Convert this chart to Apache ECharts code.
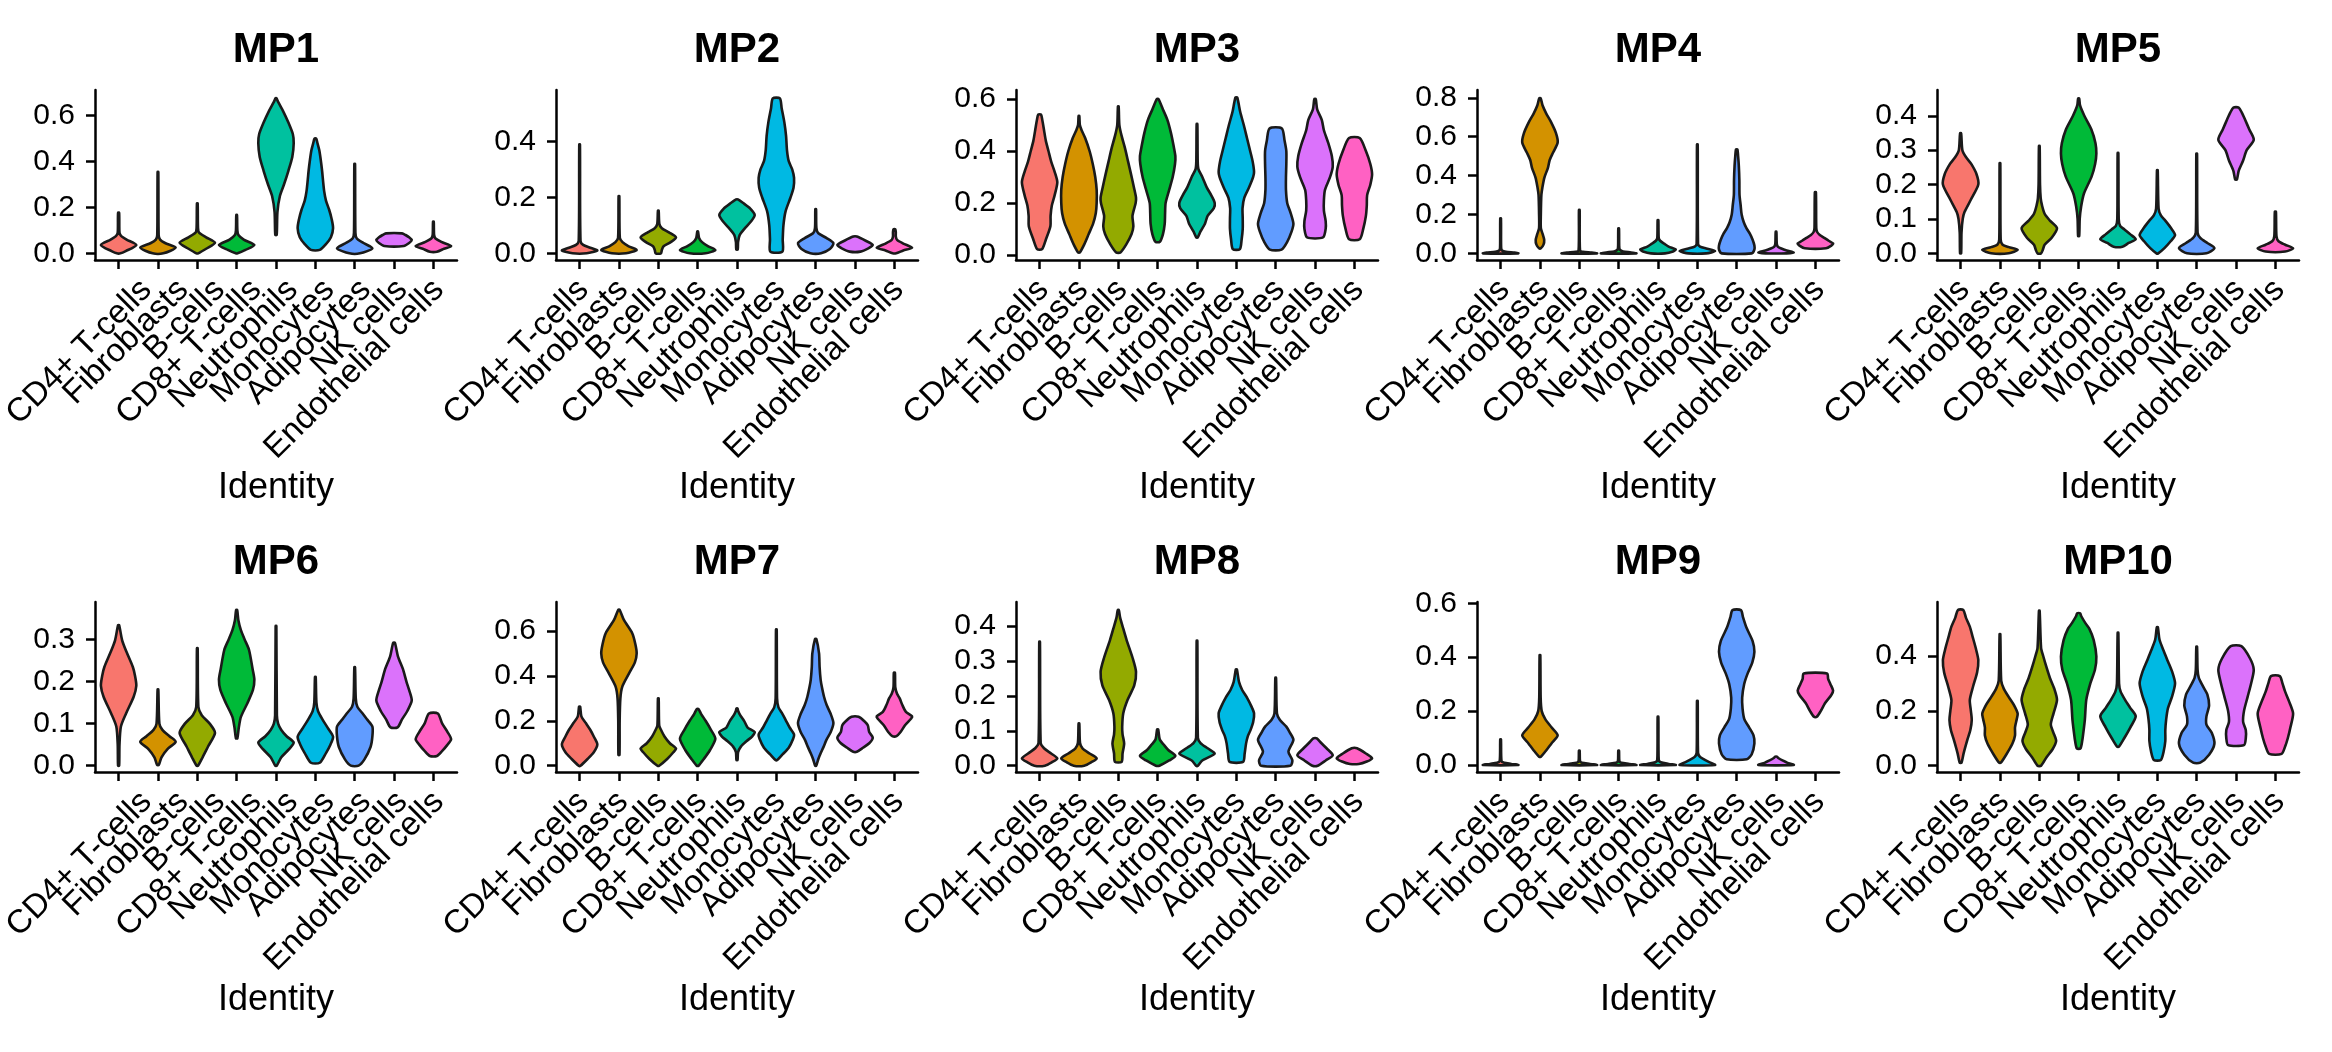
<!DOCTYPE html>
<html><head><meta charset="utf-8">
<script src="https://cdn.jsdelivr.net/npm/echarts@6/dist/echarts.min.js"></script>
<style>html,body{margin:0;padding:0;background:#fff}#c{width:2332px;height:1052px}</style>
</head><body><div id="c"></div>
<script>
const categories = ['CD4+ T-cells','Fibroblasts','B-cells','CD8+ T-cells','Neutrophils','Monocytes','Adipocytes','NK cells','Endothelial cells'];
const colors = ['#F8766D','#D39200','#93AA00','#00BA38','#00C19F','#00B9E3','#619CFF','#DB72FB','#FF61C3'];
const panelTitles = ['MP1','MP2','MP3','MP4','MP5','MP6','MP7','MP8','MP9','MP10'];
const yMin = [-0.029,-0.024,-0.02,-0.034,-0.0195,-0.015,-0.028,-0.018,-0.026,-0.023];
const yMax = [0.712,0.585,0.635,0.84,0.475,0.389,0.729,0.469,0.605,0.597];
const yTicks = [[0,0.2,0.4,0.6],[0,0.2,0.4],[0,0.2,0.4,0.6],[0,0.2,0.4,0.6,0.8],[0,0.1,0.2,0.3,0.4],
  [0,0.1,0.2,0.3],[0,0.2,0.4,0.6],[0,0.1,0.2,0.3,0.4],[0,0.2,0.4,0.6],[0,0.2,0.4]];

// violin profiles: [value, relative width] from bottom to top (width 1 = widest point)
const MP1 = [
 [[0,0.1],[0.01,0.4],[0.036,1],[0.06,0.45],[0.075,0.15],[0.09,0.05],[0.177,0.03]],
 [[0,0.3],[0.025,1],[0.045,0.4],[0.06,0.12],[0.08,0.04],[0.355,0.02]],
 [[0,0.05],[0.02,0.5],[0.046,1],[0.07,0.5],[0.09,0.1],[0.11,0.04],[0.218,0.02]],
 [[0,0.05],[0.015,0.5],[0.036,1],[0.06,0.4],[0.08,0.1],[0.1,0.04],[0.167,0.02]],
 [[0.08,0.04],[0.18,0.08],[0.25,0.22],[0.3,0.45],[0.36,0.7],[0.42,0.92],[0.48,1],[0.52,0.95],[0.57,0.7],[0.62,0.4],[0.66,0.12],[0.676,0.03]],
 [[0.015,0.25],[0.04,0.6],[0.07,0.88],[0.11,1],[0.15,0.92],[0.19,0.78],[0.23,0.6],[0.27,0.5],[0.32,0.43],[0.36,0.38],[0.41,0.3],[0.45,0.22],[0.48,0.12],[0.5,0.05]],
 [[0,0.3],[0.022,1],[0.045,0.5],[0.065,0.12],[0.09,0.04],[0.39,0.02]],
 [[0.032,0.55],[0.045,0.85],[0.058,1],[0.07,0.85],[0.08,0.65],[0.087,0.45]],
 [[0.007,0.2],[0.02,0.6],[0.032,1],[0.05,0.45],[0.065,0.12],[0.08,0.04],[0.138,0.02]]
];
const MP2 = [
 [[0,0.4],[0.01,1],[0.02,0.6],[0.03,0.2],[0.045,0.05],[0.39,0.02]],
 [[0,0.4],[0.012,1],[0.025,0.55],[0.04,0.2],[0.055,0.05],[0.205,0.02]],
 [[0,0.15],[0.012,0.2],[0.025,0.3],[0.04,0.7],[0.057,1],[0.075,0.6],[0.09,0.2],[0.105,0.06],[0.153,0.02]],
 [[0,0.45],[0.012,1],[0.025,0.6],[0.04,0.25],[0.055,0.08],[0.078,0.02]],
 [[0.014,0.04],[0.04,0.06],[0.065,0.15],[0.09,0.45],[0.115,0.8],[0.137,1],[0.16,0.75],[0.18,0.35],[0.193,0.05]],
 [[0.006,0.34],[0.05,0.36],[0.1,0.4],[0.15,0.52],[0.2,0.8],[0.235,0.97],[0.27,1],[0.3,0.9],[0.33,0.7],[0.37,0.6],[0.42,0.55],[0.47,0.45],[0.52,0.3],[0.555,0.2]],
 [[0,0.3],[0.015,0.8],[0.036,1],[0.055,0.6],[0.072,0.15],[0.09,0.04],[0.158,0.02]],
 [[0.006,0.3],[0.018,0.75],[0.03,1],[0.045,0.6],[0.06,0.1]],
 [[0,0.1],[0.01,0.5],[0.02,1],[0.035,0.5],[0.048,0.15],[0.06,0.08],[0.075,0.08],[0.086,0.05]]
];
const MP3 = [
 [[0.022,0.14],[0.06,0.36],[0.11,0.61],[0.15,0.62],[0.19,0.69],[0.23,0.85],[0.28,1],[0.32,0.85],[0.36,0.65],[0.4,0.5],[0.44,0.35],[0.48,0.25],[0.52,0.15],[0.54,0.08]],
 [[0.009,0.05],[0.04,0.3],[0.08,0.55],[0.12,0.8],[0.16,0.95],[0.2,1],[0.25,1],[0.3,0.92],[0.35,0.78],[0.4,0.6],[0.45,0.35],[0.48,0.15],[0.5,0.05],[0.535,0.02]],
 [[0.009,0.12],[0.04,0.45],[0.08,0.75],[0.11,0.85],[0.15,0.8],[0.2,0.98],[0.22,1],[0.26,0.88],[0.31,0.72],[0.36,0.55],[0.41,0.38],[0.46,0.18],[0.5,0.06],[0.572,0.02]],
 [[0.05,0.12],[0.08,0.3],[0.12,0.4],[0.16,0.42],[0.2,0.45],[0.25,0.65],[0.3,0.85],[0.35,0.98],[0.38,1],[0.42,0.9],[0.47,0.75],[0.52,0.55],[0.56,0.3],[0.6,0.05]],
 [[0.067,0.04],[0.09,0.2],[0.12,0.45],[0.15,0.6],[0.18,0.95],[0.2,1],[0.23,0.8],[0.26,0.55],[0.3,0.3],[0.33,0.08],[0.36,0.04],[0.504,0.02]],
 [[0.022,0.2],[0.06,0.3],[0.1,0.36],[0.14,0.36],[0.18,0.35],[0.22,0.45],[0.26,0.72],[0.3,0.95],[0.32,1],[0.36,0.92],[0.4,0.78],[0.45,0.6],[0.5,0.42],[0.55,0.22],[0.606,0.05]],
 [[0.02,0.33],[0.05,0.65],[0.09,0.9],[0.12,1],[0.16,0.85],[0.2,0.65],[0.25,0.58],[0.3,0.58],[0.35,0.6],[0.4,0.6],[0.44,0.5],[0.487,0.35]],
 [[0.067,0.45],[0.1,0.6],[0.13,0.6],[0.17,0.5],[0.21,0.5],[0.25,0.56],[0.3,0.85],[0.34,1],[0.38,0.95],[0.43,0.75],[0.48,0.5],[0.52,0.38],[0.56,0.12],[0.6,0.04]],
 [[0.06,0.3],[0.1,0.5],[0.15,0.65],[0.19,0.7],[0.23,0.72],[0.27,0.9],[0.31,1],[0.35,0.9],[0.4,0.65],[0.45,0.3]]
];
const MP4 = [
 [[0,1],[0.004,0.8],[0.008,0.3],[0.015,0.08],[0.03,0.03],[0.18,0.02]],
 [[0.026,0.05],[0.045,0.2],[0.07,0.24],[0.1,0.15],[0.13,0.05],[0.2,0.05],[0.3,0.08],[0.34,0.14],[0.39,0.25],[0.44,0.45],[0.48,0.55],[0.52,0.75],[0.57,1],[0.62,0.9],[0.68,0.6],[0.72,0.35],[0.76,0.15],[0.797,0.04]],
 [[0,1],[0.004,0.7],[0.008,0.2],[0.015,0.04],[0.223,0.02]],
 [[0,1],[0.005,0.7],[0.01,0.25],[0.02,0.06],[0.04,0.03],[0.128,0.02]],
 [[0,0.4],[0.01,0.85],[0.02,1],[0.035,0.6],[0.05,0.35],[0.065,0.12],[0.08,0.04],[0.171,0.02]],
 [[0,0.5],[0.012,1],[0.025,0.5],[0.035,0.15],[0.05,0.04],[0.56,0.02]],
 [[0,0.85],[0.02,1],[0.04,1],[0.07,0.9],[0.1,0.75],[0.13,0.55],[0.16,0.4],[0.2,0.28],[0.25,0.22],[0.3,0.16],[0.38,0.15],[0.45,0.12],[0.5,0.08],[0.534,0.04]],
 [[0,0.6],[0.005,1],[0.015,0.6],[0.025,0.3],[0.035,0.1],[0.05,0.04],[0.111,0.02]],
 [[0.026,0.6],[0.04,0.9],[0.051,1],[0.065,0.75],[0.08,0.5],[0.095,0.25],[0.11,0.1],[0.13,0.05],[0.314,0.03]]
];
const MP5 = [
 [[0,0.03],[0.06,0.05],[0.1,0.12],[0.12,0.22],[0.155,0.57],[0.2,1],[0.23,0.9],[0.26,0.6],[0.28,0.3],[0.3,0.1],[0.349,0.03]],
 [[0,0.5],[0.01,1],[0.018,0.5],[0.025,0.15],[0.04,0.04],[0.262,0.02]],
 [[0,0.1],[0.01,0.2],[0.025,0.3],[0.045,0.7],[0.073,1],[0.095,0.6],[0.115,0.3],[0.14,0.15],[0.16,0.08],[0.2,0.04],[0.312,0.02]],
 [[0.05,0.03],[0.1,0.06],[0.136,0.14],[0.174,0.3],[0.223,0.73],[0.26,0.93],[0.29,1],[0.32,0.95],[0.36,0.72],[0.4,0.32],[0.43,0.08],[0.45,0.03]],
 [[0.019,0.25],[0.03,0.6],[0.041,1],[0.055,0.7],[0.07,0.35],[0.08,0.12],[0.1,0.04],[0.292,0.02]],
 [[0,0.05],[0.015,0.4],[0.035,0.75],[0.053,1],[0.075,0.75],[0.095,0.45],[0.11,0.2],[0.13,0.07],[0.242,0.02]],
 [[0,0.55],[0.015,1],[0.03,0.6],[0.045,0.2],[0.06,0.05],[0.29,0.02]],
 [[0.215,0.05],[0.24,0.15],[0.27,0.4],[0.3,0.6],[0.33,1],[0.36,0.75],[0.39,0.5],[0.41,0.32],[0.424,0.15]],
 [[0.005,0.55],[0.015,1],[0.025,0.55],[0.035,0.18],[0.05,0.06],[0.121,0.03]]
];
const MP6 = [
 [[0,0.03],[0.05,0.05],[0.093,0.13],[0.124,0.42],[0.164,0.85],[0.19,1],[0.215,0.92],[0.235,0.8],[0.27,0.45],[0.298,0.2],[0.334,0.03]],
 [[0.002,0.05],[0.02,0.2],[0.04,0.55],[0.057,1],[0.07,0.65],[0.085,0.25],[0.1,0.08],[0.181,0.02]],
 [[0,0.04],[0.02,0.3],[0.045,0.6],[0.078,1],[0.1,0.7],[0.12,0.25],[0.14,0.06],[0.279,0.02]],
 [[0.065,0.04],[0.09,0.12],[0.116,0.24],[0.148,0.6],[0.18,0.92],[0.205,1],[0.23,0.9],[0.275,0.7],[0.3,0.45],[0.322,0.24],[0.345,0.1],[0.37,0.03]],
 [[0,0.04],[0.02,0.3],[0.04,0.75],[0.055,1],[0.07,0.6],[0.085,0.3],[0.1,0.12],[0.12,0.05],[0.332,0.02]],
 [[0.007,0.25],[0.03,0.6],[0.05,0.85],[0.069,1],[0.09,0.7],[0.11,0.4],[0.13,0.15],[0.15,0.06],[0.211,0.02]],
 [[0,0.22],[0.015,0.55],[0.045,0.9],[0.07,1],[0.093,1],[0.11,0.7],[0.124,0.45],[0.14,0.15],[0.16,0.06],[0.234,0.02]],
 [[0.091,0.2],[0.11,0.45],[0.13,0.75],[0.155,1],[0.18,0.85],[0.2,0.7],[0.23,0.5],[0.26,0.22],[0.292,0.05]],
 [[0.023,0.2],[0.035,0.5],[0.05,0.8],[0.063,1],[0.08,0.8],[0.1,0.5],[0.124,0.25]]
];
const MP7 = [
 [[0,0.05],[0.03,0.45],[0.06,0.8],[0.095,1],[0.13,0.8],[0.16,0.6],[0.19,0.35],[0.22,0.1],[0.263,0.03]],
 [[0.048,0.03],[0.2,0.04],[0.3,0.08],[0.352,0.19],[0.411,0.57],[0.46,0.9],[0.5,1],[0.54,0.93],[0.59,0.75],[0.649,0.28],[0.694,0.04]],
 [[0,0.05],[0.03,0.5],[0.06,0.85],[0.077,1],[0.1,0.65],[0.13,0.35],[0.16,0.15],[0.18,0.05],[0.3,0.02]],
 [[0,0.05],[0.03,0.35],[0.07,0.7],[0.12,1],[0.16,0.75],[0.2,0.45],[0.23,0.2],[0.252,0.05]],
 [[0.025,0.03],[0.06,0.06],[0.085,0.22],[0.11,0.55],[0.13,0.85],[0.15,1],[0.17,0.6],[0.2,0.4],[0.225,0.18],[0.245,0.06],[0.255,0.03]],
 [[0.025,0.05],[0.05,0.35],[0.08,0.7],[0.12,0.95],[0.14,1],[0.17,0.75],[0.2,0.55],[0.23,0.35],[0.26,0.12],[0.3,0.04],[0.607,0.02]],
 [[0,0.03],[0.03,0.15],[0.055,0.28],[0.085,0.45],[0.114,0.6],[0.15,0.85],[0.19,1],[0.23,0.85],[0.27,0.62],[0.307,0.47],[0.35,0.35],[0.382,0.28],[0.44,0.22],[0.5,0.19],[0.564,0.04]],
 [[0.062,0.1],[0.08,0.45],[0.1,0.8],[0.125,1],[0.15,0.8],[0.18,0.72],[0.2,0.5],[0.218,0.2]],
 [[0.132,0.12],[0.15,0.35],[0.18,0.6],[0.21,0.95],[0.22,1],[0.24,0.65],[0.27,0.45],[0.3,0.3],[0.32,0.15],[0.35,0.05],[0.414,0.03]]
];
const MP8 = [
 [[0,0.3],[0.01,0.7],[0.021,1],[0.035,0.65],[0.05,0.25],[0.065,0.06],[0.355,0.02]],
 [[0,0.3],[0.01,0.7],[0.021,1],[0.035,0.6],[0.05,0.2],[0.065,0.06],[0.121,0.02]],
 [[0.011,0.19],[0.035,0.24],[0.064,0.33],[0.09,0.24],[0.112,0.22],[0.15,0.28],[0.188,0.52],[0.23,0.9],[0.269,1],[0.31,0.8],[0.36,0.47],[0.398,0.25],[0.425,0.1],[0.446,0.03]],
 [[0,0.1],[0.015,0.65],[0.028,1],[0.045,0.6],[0.06,0.35],[0.075,0.12],[0.104,0.03]],
 [[0,0.05],[0.015,0.3],[0.035,1],[0.05,0.6],[0.065,0.2],[0.08,0.05],[0.358,0.02]],
 [[0.011,0.38],[0.035,0.47],[0.064,0.55],[0.085,0.65],[0.102,0.8],[0.125,0.95],[0.15,1],[0.17,0.85],[0.195,0.6],[0.217,0.33],[0.24,0.15],[0.276,0.03]],
 [[0,0.83],[0.016,0.94],[0.04,0.72],[0.074,1],[0.095,0.8],[0.112,0.6],[0.131,0.24],[0.15,0.07],[0.252,0.02]],
 [[0,0.15],[0.015,0.6],[0.03,1],[0.05,0.65],[0.065,0.35],[0.078,0.1]],
 [[0.005,0.25],[0.012,0.7],[0.021,1],[0.035,0.65],[0.05,0.15]]
];
const MP9 = [
 [[0,1],[0.004,0.6],[0.008,0.2],[0.015,0.05],[0.095,0.02]],
 [[0.031,0.05],[0.05,0.3],[0.08,0.65],[0.11,1],[0.14,0.65],[0.17,0.3],[0.2,0.1],[0.25,0.04],[0.408,0.02]],
 [[0,1],[0.004,0.6],[0.008,0.15],[0.015,0.04],[0.053,0.02]],
 [[0,1],[0.004,0.6],[0.008,0.15],[0.015,0.04],[0.053,0.02]],
 [[0,1],[0.004,0.6],[0.01,0.15],[0.02,0.04],[0.179,0.02]],
 [[0,1],[0.01,0.7],[0.02,0.4],[0.03,0.15],[0.045,0.04],[0.238,0.02]],
 [[0.021,0.57],[0.04,0.85],[0.08,1],[0.11,0.95],[0.14,0.7],[0.17,0.43],[0.21,0.33],[0.25,0.31],[0.3,0.42],[0.34,0.62],[0.38,0.88],[0.42,1],[0.46,0.9],[0.51,0.55],[0.55,0.35],[0.575,0.24]],
 [[0,1],[0.008,0.65],[0.016,0.4],[0.025,0.15],[0.031,0.05]],
 [[0.179,0.08],[0.2,0.3],[0.23,0.55],[0.26,0.9],[0.276,1],[0.3,0.85],[0.32,0.72],[0.34,0.66]]
];
const MP10 = [
 [[0.011,0.05],[0.045,0.17],[0.094,0.38],[0.13,0.55],[0.167,0.63],[0.2,0.58],[0.24,0.52],[0.288,0.7],[0.34,0.93],[0.385,1],[0.43,0.85],[0.47,0.68],[0.507,0.52],[0.54,0.3],[0.568,0.15]],
 [[0.011,0.05],[0.04,0.35],[0.08,0.7],[0.11,0.85],[0.14,0.85],[0.17,0.95],[0.19,1],[0.22,0.8],[0.25,0.5],[0.28,0.22],[0.31,0.07],[0.48,0.02]],
 [[0,0.1],[0.03,0.4],[0.06,0.75],[0.09,0.95],[0.12,0.8],[0.15,0.65],[0.19,0.8],[0.24,1],[0.28,0.85],[0.32,0.6],[0.36,0.4],[0.4,0.22],[0.43,0.1],[0.565,0.02]],
 [[0.063,0.1],[0.09,0.2],[0.118,0.26],[0.167,0.35],[0.24,0.43],[0.3,0.66],[0.35,0.92],[0.398,1],[0.458,0.85],[0.5,0.6],[0.52,0.38],[0.545,0.15],[0.556,0.08]],
 [[0.069,0.05],[0.1,0.35],[0.14,0.7],[0.18,1],[0.21,0.7],[0.24,0.4],[0.27,0.15],[0.3,0.06],[0.485,0.02]],
 [[0.021,0.2],[0.05,0.35],[0.09,0.45],[0.13,0.45],[0.17,0.5],[0.21,0.6],[0.25,0.82],[0.3,1],[0.34,0.85],[0.38,0.6],[0.42,0.35],[0.46,0.12],[0.505,0.03]],
 [[0.011,0.2],[0.04,0.7],[0.08,1],[0.12,0.85],[0.15,0.55],[0.18,0.55],[0.22,0.7],[0.26,0.6],[0.29,0.35],[0.32,0.12],[0.35,0.05],[0.434,0.02]],
 [[0.075,0.45],[0.1,0.55],[0.13,0.55],[0.16,0.4],[0.2,0.45],[0.25,0.65],[0.3,0.85],[0.35,1],[0.39,0.8],[0.436,0.3]],
 [[0.043,0.35],[0.07,0.55],[0.1,0.7],[0.14,0.85],[0.19,1],[0.23,0.8],[0.27,0.55],[0.3,0.4],[0.327,0.25]]
];
const panels = [MP1,MP2,MP3,MP4,MP5,MP6,MP7,MP8,MP9,MP10];

const FONT = '"Liberation Sans", Arial, sans-serif';
const colLeft = [95,556,1016,1477,1937];
const rowTop = [90,602];
const PW = 362, PH = 170;
const UNIT = PW/9.2;               // ggplot discrete scale: 0.6 expansion on both sides
const LABEL_DX = 4;                // hjust/vjust = 1 offset of rotated tick labels
const catIdx = categories.map((c,i)=>i);

const grids=[], xAxes=[], yAxes=[], series=[], graphics=[];
// plot grids
panels.forEach((prof,p)=>{
  const col = p%5, row = Math.floor(p/5);
  grids.push({left:colLeft[col], top:rowTop[row], width:PW, height:PH, containLabel:false});
  const axLine = {show:true, onZero:false, lineStyle:{color:'#000', width:2.5}};
  const axTick = (vals)=>({show:true, customValues:vals, length:9, inside:false, lineStyle:{color:'#000', width:2.5}});
  xAxes.push({type:'value', gridIndex:p, min:-0.6, max:8.6, splitLine:{show:false},
    axisLine:axLine, axisTick:axTick(catIdx), axisLabel:{show:false},
    name:'Identity', nameLocation:'middle', nameGap:210,
    nameTextStyle:{fontSize:36, color:'#000', fontFamily:FONT}});
  yAxes.push({type:'value', gridIndex:p, min:yMin[p], max:yMax[p], splitLine:{show:false},
    axisLine:axLine, axisTick:axTick(yTicks[p]),
    axisLabel:{customValues:yTicks[p], formatter:v=>(+v).toFixed(1), showMinLabel:true, showMaxLabel:true,
      fontSize:30, color:'#000', fontFamily:FONT, margin:20}});
  series.push({type:'custom', xAxisIndex:p, yAxisIndex:p,
    data: catIdx.map(i=>[i, 0]),
    renderItem:(params, api)=>{
      const i = api.value(0);
      const pr = prof[i];
      const right=[], left=[];
      pr.forEach(([y,w])=>{
        right.push(api.coord([i + 0.45*w, y]));
        left.push(api.coord([i - 0.45*w, y]));
      });
      const pts = right.concat(left.reverse());
      return {type:'polygon', shape:{points:pts, smooth:0.25},
        style:{fill:colors[i], stroke:'#1a1a1a', lineWidth:2.6, lineJoin:'round'}};
    }});
  graphics.push({type:'text', x:colLeft[col]+PW/2, y: row===0?50:562,
    style:{text:panelTitles[p], font:'bold 42px '+FONT, fill:'#000', align:'center', verticalAlign:'middle'}});
});
// label-only category axes (same category centres as the plot axes)
panels.forEach((prof,p)=>{
  const col = p%5, row = Math.floor(p/5);
  grids.push({left:colLeft[col]+0.1*UNIT+LABEL_DX, top:rowTop[row], width:9*UNIT, height:PH, containLabel:false});
  xAxes.push({type:'category', gridIndex:10+p, data:categories, boundaryGap:true, position:'bottom',
    axisLine:{show:false}, axisTick:{show:false}, splitLine:{show:false},
    axisLabel:{interval:0, rotate:45, fontSize:33, color:'#000', fontFamily:FONT, margin:25}});
  yAxes.push({type:'value', gridIndex:10+p, show:false, min:0, max:1});
});

const chart = echarts.init(document.getElementById('c'), null, {renderer:'canvas'});
chart.setOption({backgroundColor:'#fff', animation:false, grid:grids, xAxis:xAxes, yAxis:yAxes, series:series, graphic:graphics});
</script></body></html>
